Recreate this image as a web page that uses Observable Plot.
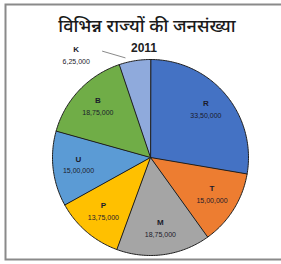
<!DOCTYPE html>
<html>
<head>
<meta charset="utf-8">
<script src="https://cdn.jsdelivr.net/npm/d3@7"></script>
<script src="https://cdn.jsdelivr.net/npm/@observablehq/plot@0.6"></script>
<style>
  html, body { margin: 0; padding: 0; background: #fff; }
  svg { display: block; }
</style>
</head>
<body>
<div id="chart"></div>
<script>
// Data
const states = ["R", "T", "M", "P", "U", "B", "K"];
const population = [3350000, 1500000, 1875000, 1375000, 1500000, 1875000, 625000];
const valueLabels = ["33,50,000", "15,00,000", "18,75,000", "13,75,000", "15,00,000", "18,75,000", "6,25,000"];
const colors = ["#4472C4", "#ED7D31", "#A5A5A5", "#FFC000", "#5B9BD5", "#70AD47", "#8FAADC"];
const title = "विभिन्न राज्यों की जनसंख्या";
const subtitle = "2011";

// Geometry (layout constants)
const R = 98;
const pie = d3.pie().sort(null).value(d => d.value).startAngle(0).endAngle(2 * Math.PI);
const rows = states.map((s, i) => ({key: s, value: population[i], label: valueLabels[i], color: colors[i]}));
const arcs = pie(rows);

// Slice outlines as closed polygons
const poly = [];
for (const a of arcs) {
  poly.push({key: a.data.key, color: a.data.color, x: 0, y: 0});
  const n = Math.max(2, Math.ceil((a.endAngle - a.startAngle) / (Math.PI / 180)));
  for (let k = 0; k <= n; k++) {
    const t = a.startAngle + (a.endAngle - a.startAngle) * k / n;
    poly.push({key: a.data.key, color: a.data.color, x: R * Math.sin(t), y: R * Math.cos(t)});
  }
}

// Label positions
const labels = arcs.map(a => {
  const mid = (a.startAngle + a.endAngle) / 2;
  const outside = a.data.key === "K";
  const ang = outside ? mid - 27 * Math.PI / 180 : mid;
  const r = outside ? R * 1.28 : R * 0.74;
  return {key: a.data.key, label: a.data.label, x: r * Math.sin(ang), y: r * Math.cos(ang), outside, mid};
});
const leaders = labels.filter(d => d.outside).flatMap(d => {
  const a1 = d.mid - 5 * Math.PI / 180, a2 = d.mid - 15 * Math.PI / 180;
  return [
    {key: d.key, x: R * 1.05 * Math.sin(a1), y: R * 1.05 * Math.cos(a1)},
    {key: d.key, x: R * 1.19 * Math.sin(a2), y: R * 1.19 * Math.cos(a2)}
  ];
});

const chart = Plot.plot({
  width: 281,
  height: 264,
  margin: 0,
  x: {domain: [-150, 131], axis: null},
  y: {domain: [-107, 157], axis: null},
  style: {fontFamily: "'Liberation Sans', 'Noto Sans', sans-serif", background: "#fff"},
  marks: [
    Plot.frame({stroke: "#8a8a8a", strokeWidth: 2, insetLeft: 5, insetTop: 4, insetBottom: 5, insetRight: -10}),
    Plot.line(poly, {x: "x", y: "y", z: "key", fill: "color", stroke: "#1f1f1f", strokeWidth: 1, curve: "linear-closed", strokeLinejoin: "round"}),
    Plot.line(leaders, {x: "x", y: "y", z: "key", stroke: "#8a8a8a", strokeWidth: 1}),
    Plot.text(labels, {x: "x", y: "y", text: "key", dy: -7, fontSize: 8, fontWeight: "bold", fill: "#1b1b2b"}),
    Plot.text(labels, {x: "x", y: "y", text: "label", dy: 5, fontSize: 7, fill: "#1b1b2b"}),
    Plot.text([title], {frameAnchor: "top", text: d => d, dx: 6, dy: 26, fontSize: 18, fontWeight: 500, fill: "#1a1a1a", lineAnchor: "middle",
      fontFamily: "'Noto Sans Devanagari', 'Lohit Devanagari', 'Noto Sans', sans-serif"}),
    Plot.text([subtitle], {frameAnchor: "top", text: d => d, dx: 3, dy: 47.5, fontSize: 12, fontWeight: "bold", fill: "#222", lineAnchor: "middle"})
  ]
});
document.getElementById("chart").appendChild(chart);
</script>
</body>
</html>
